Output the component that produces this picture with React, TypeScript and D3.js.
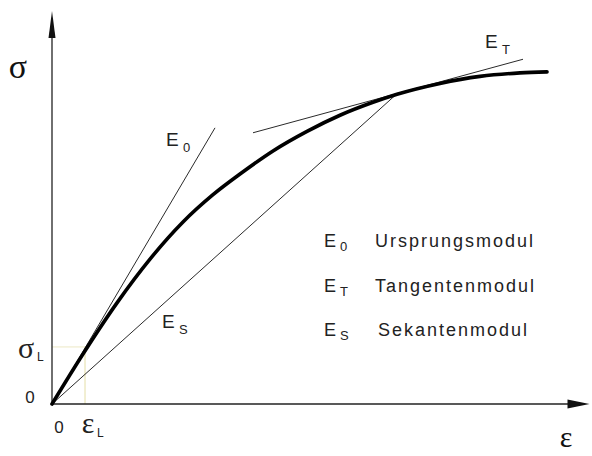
import React from 'react';
import * as d3 from 'd3';

// stress-strain curve (arbitrary units)
const strain = [0, 6.2, 13, 19.6, 26.2, 32.2, 37.6, 44.2, 51, 57.6, 64.2, 69, 77.6, 85.6, 93.6, 99];
const stress = [0, 14.3, 28.9, 41.4, 52.0, 59.8, 65.7, 72.3, 77.9, 82.5, 86.2, 88.5, 91.6, 93.6, 94.6, 94.9];

// helper lines [strain, stress] endpoints
const lineE0 = [[0, 0], [32.6, 78.9]];
const lineET = [[40.2, 77.5], [94.2, 98.5]];
const lineES = [[0, 0], [68.8, 88.4]];

const epsL = 6.6;
const sigL = 16.3;
const axisMaxX = 107.5;
const axisMaxY = 112.3;

const legendSymbols = ['E', 'E', 'E'];
const legendSubs = ['0', 'T', 'S'];
const legendNames = ['Ursprungsmodul', 'Tangentenmodul', 'Sekantenmodul'];

const W = 592;
const H = 456;
const sans = '"Liberation Sans", Arial, sans-serif';
const serif = '"Liberation Serif", "Times New Roman", serif';

export default function App() {
  const x = d3.scaleLinear().domain([0, 100]).range([52, 552]);
  const y = d3.scaleLinear().domain([0, 100]).range([404, 54]);

  const pts: [number, number][] = strain.map((s, i) => [s, stress[i]]);
  const curve = d3.line<[number, number]>()
    .x(d => x(d[0]))
    .y(d => y(d[1]))
    .curve(d3.curveMonotoneX);

  const seg = (l: number[][], key: string) => (
    <line key={key} x1={x(l[0][0])} y1={y(l[0][1])} x2={x(l[1][0])} y2={y(l[1][1])}
      stroke="#2a2a2a" strokeWidth={1} />
  );

  const x0 = x(0), y0 = y(0);
  const xEnd = x(axisMaxX), yEnd = y(axisMaxY);

  const label = (lx: number, ly: number, main: string, sub: string, key: string) => (
    <g key={key} fontFamily={sans} fill="#222">
      <text x={lx} y={ly} fontSize={19}>{main}</text>
      <text x={lx + 17} y={ly + 6} fontSize={13}>{sub}</text>
    </g>
  );

  return (
    <svg width={W} height={H} style={{ position: 'absolute', left: 0, top: 0, background: '#fff' }}>
      {/* faint guide lines at eps_L / sigma_L */}
      <line x1={x(epsL)} y1={y0} x2={x(epsL)} y2={y(sigL)} stroke="#e4dea6" strokeWidth={1} />
      <line x1={x0} y1={y(sigL)} x2={x(epsL)} y2={y(sigL)} stroke="#ece8c4" strokeWidth={1} />

      {/* axes */}
      <line x1={x0} y1={y0} x2={xEnd - 10} y2={y0} stroke="#222" strokeWidth={1.3} />
      <line x1={x0} y1={y0} x2={x0} y2={yEnd + 10} stroke="#222" strokeWidth={1.3} />
      <polygon points={`${xEnd},${y0} ${xEnd - 22},${y0 - 4.5} ${xEnd - 22},${y0 + 4.5}`} fill="#111" />
      <polygon points={`${x0},${yEnd} ${x0 - 3.5},${yEnd + 27} ${x0 + 3.5},${yEnd + 27}`} fill="#111" />

      {/* tangent / secant lines */}
      {seg(lineE0, 'e0')}
      {seg(lineET, 'et')}
      {seg(lineES, 'es')}

      {/* stress-strain curve */}
      <path d={curve(pts) || ''} fill="none" stroke="#000" strokeWidth={3.6} strokeLinecap="round" />

      {/* axis titles */}
      <text x={18} y={78} fontFamily={serif} fontSize={34} textAnchor="middle" fill="#111">σ</text>
      <text x={566} y={447} fontFamily={serif} fontSize={30} textAnchor="middle" fill="#111">ε</text>

      {/* tick labels */}
      <text x={30} y={y0 - 1} fontFamily={sans} fontSize={17} textAnchor="middle" fill="#222">0</text>
      <text x={59} y={433} fontFamily={sans} fontSize={17} textAnchor="middle" fill="#222">0</text>
      <text x={26} y={y(sigL) + 11} fontFamily={serif} fontSize={30} textAnchor="middle" fill="#222">σ</text>
      <text x={37} y={y(sigL) + 14} fontFamily={sans} fontSize={12} fill="#222">L</text>
      <text x={x(epsL) + 3} y={433} fontFamily={serif} fontSize={30} textAnchor="middle" fill="#222">ε</text>
      <text x={x(epsL) + 12} y={437} fontFamily={sans} fontSize={12} fill="#222">L</text>

      {/* line labels */}
      {label(166, 146, 'E', '0', 'l0')}
      {label(162, 328, 'E', 'S', 'ls')}
      {label(485, 48, 'E', 'T', 'lt')}

      {/* legend */}
      {legendNames.map((name, i) => {
        const ly = 247 + i * 44.5;
        return (
          <g key={name} fontFamily={sans} fill="#222">
            <text x={324} y={ly} fontSize={18}>{legendSymbols[i]}</text>
            <text x={340} y={ly + 4} fontSize={13}>{legendSubs[i]}</text>
            <text x={i === 2 ? 378 : 375} y={ly} fontSize={18} letterSpacing={2}>{name}</text>
          </g>
        );
      })}
    </svg>
  );
}
